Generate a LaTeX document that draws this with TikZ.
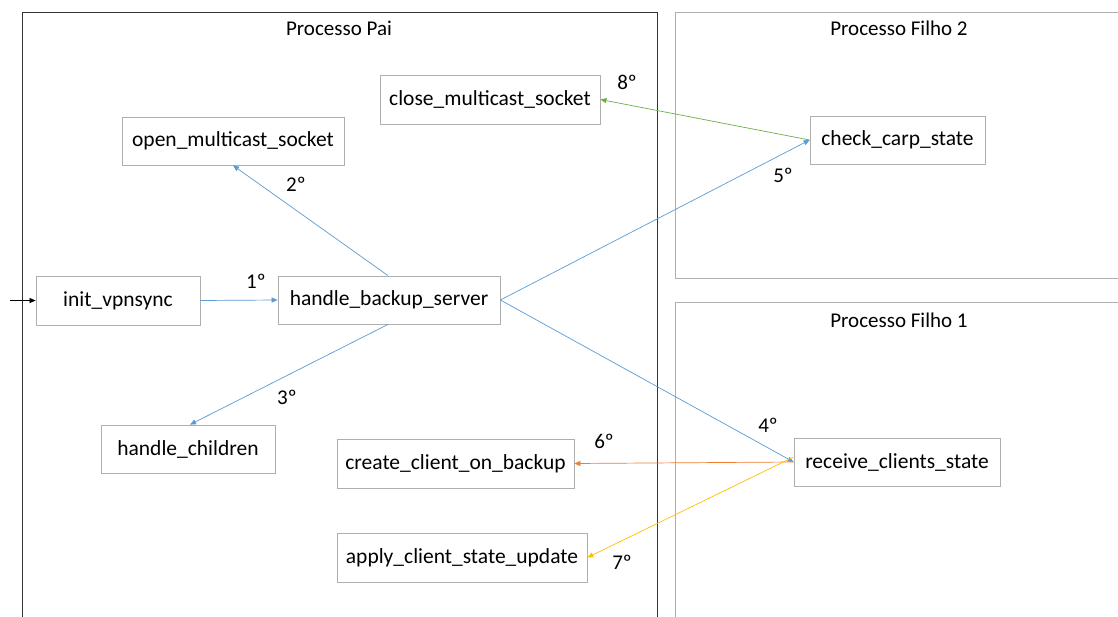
\documentclass[tikz,border=0pt]{standalone}
\usepackage{fontspec}
\setmainfont{Carlito}
\usetikzlibrary{arrows.meta}
\definecolor{cblue}{HTML}{5B9BD5}
\definecolor{corange}{HTML}{ED7D31}
\definecolor{cyellow}{HTML}{FFC000}
\definecolor{cgreen}{HTML}{70AD47}
\definecolor{cgray}{HTML}{AFAFAF}
\begin{document}
\begin{tikzpicture}[x=1pt,y=-1pt,
  fn/.style={draw=cgray,line width=0.8pt,font=\fontsize{21.5}{24}\selectfont,inner sep=0pt,anchor=center},
  ttl/.style={font=\fontsize{21}{24}\selectfont,inner sep=0pt},
  lbl/.style={font=\fontsize{21}{24}\selectfont,inner sep=0pt},
  arr/.style={line width=0.7pt,-{Triangle[length=6pt,width=5pt]}}]
\useasboundingbox (0,0) rectangle (1118,616);
\fill[white] (0,0) rectangle (1118,616);
% containers
\draw[black!80,line width=0.9pt] (22,640) -- (22,12) -- (657,12) -- (657,640);
\draw[cgray,line width=0.9pt] (1130,12) -- (675,12) -- (675,278) -- (1130,278);
\draw[cgray,line width=0.9pt] (1130,302) -- (675,302) -- (675,640);
\node[ttl] (tpai) at (339,28) {Processo Pai};
\node[ttl] (tf2) at (899,28) {Processo Filho 2};
\node[ttl] (tf1) at (899,320) {Processo Filho 1};
% nodes
\node[fn,minimum width=164pt,minimum height=49pt] (init) at (118,300.5) {init\_vpnsync};
\node[fn,minimum width=222pt,minimum height=48pt] (hbs) at (389,300) {handle\_backup\_server};
\node[fn,minimum width=222pt,minimum height=48pt] (open) at (233,141) {open\_multicast\_socket};
\node[fn,minimum width=220pt,minimum height=49pt] (close) at (490,99.5) {close\_multicast\_socket};
\node[fn,minimum width=174pt,minimum height=48pt] (hch) at (188,449) {handle\_children};
\node[fn,minimum width=237pt,minimum height=49pt] (create) at (455.5,463.5) {create\_client\_on\_backup};
\node[fn,minimum width=250pt,minimum height=49pt] (apply) at (462,557.5) {apply\_client\_state\_update};
\node[fn,minimum width=175pt,minimum height=48pt] (carp) at (897.5,140) {check\_carp\_state};
\node[fn,minimum width=206pt,minimum height=48pt] (recv) at (897,462) {receive\_clients\_state};
\coordinate (start) at (10,300.5);
% edges
\draw[arr,black,line width=0.6pt] (start) -- (init.west);
\draw[arr,cblue] (init.east) -- (hbs.west);
\draw[arr,cblue] ([xshift=-1pt]hbs.north) -- (open.south);
\draw[arr,cblue] ([xshift=-1pt]hbs.south) -- ([xshift=2pt]hch.north);
\draw[arr,cblue] (hbs.east) -- (recv.west);
\draw[arr,cblue] (hbs.east) -- (carp.west);
\draw[arr,corange] (recv.west) -- (create.east);
\draw[arr,cyellow] ([yshift=5pt]recv.west) -- (apply.east);
\draw[arr,cgreen] (carp.west) -- (close.east);
% labels
\node[lbl] (l1) at (256,281) {1º};
\node[lbl] (l2) at (296,184) {2º};
\node[lbl] (l3) at (287,397) {3º};
\node[lbl] (l4) at (768,425) {4º};
\node[lbl] (l5) at (783,175) {5º};
\node[lbl] (l6) at (604,441) {6º};
\node[lbl] (l7) at (622,562) {7º};
\node[lbl] (l8) at (627,82) {8º};
\end{tikzpicture}
\end{document}
